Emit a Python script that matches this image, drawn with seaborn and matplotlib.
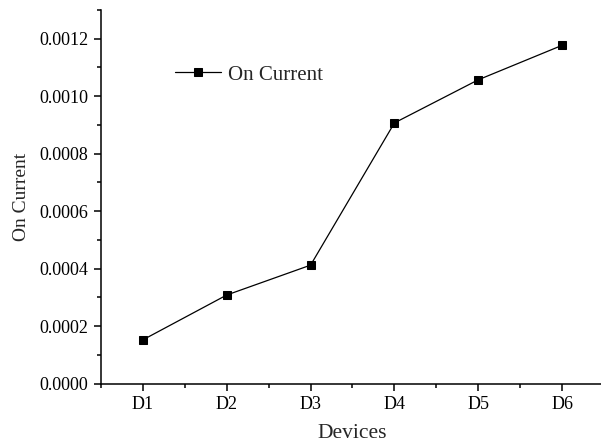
import matplotlib
matplotlib.use("Agg")
import matplotlib.pyplot as plt
from matplotlib.ticker import MultipleLocator, FixedLocator
import seaborn as sns
import pandas as pd

devices = ["D1", "D2", "D3", "D4", "D5", "D6"]
on_current = [0.000152, 0.000308, 0.000412, 0.000907, 0.001057, 0.001177]

sns.set_style("ticks")
plt.rcParams["font.family"] = ["Liberation Serif", "DejaVu Serif"]

df = pd.DataFrame({"pos": range(1, len(devices) + 1), "current": on_current})

fig = plt.figure(figsize=(6.01, 4.43), dpi=100)
ax = fig.add_axes([101 / 601, (443 - 383.5) / 443, (604 - 101) / 601, (383.5 - 10) / 443])

sns.lineplot(data=df, x="pos", y="current", ax=ax, color="black", linewidth=0.9,
             marker="s", markersize=6.2, markeredgecolor="black", markerfacecolor="black",
             label="On Current")

ax.set_xlim(0.5, 6.5)
ax.set_ylim(0, 0.0013)
ax.xaxis.set_major_locator(FixedLocator(range(1, len(devices) + 1)))
ax.set_xticklabels(devices)
ax.xaxis.set_minor_locator(FixedLocator([0.5, 1.5, 2.5, 3.5, 4.5, 5.5, 6.5]))
ax.yaxis.set_major_locator(MultipleLocator(0.0002))
ax.yaxis.set_minor_locator(MultipleLocator(0.0001))
ax.yaxis.set_major_formatter(matplotlib.ticker.FormatStrFormatter("%.4f"))

for s in ["top", "right"]:
    ax.spines[s].set_visible(False)
for s in ["left", "bottom"]:
    ax.spines[s].set_linewidth(1.1)
    ax.spines[s].set_color("black")

ax.tick_params(axis="both", which="major", direction="out", length=5, width=1.1,
               labelsize=13, colors="black", pad=4)
ax.tick_params(axis="both", which="minor", direction="out", length=3, width=1.1,
               colors="black")

ax.set_xlabel("Devices", fontsize=15.5, labelpad=8)
ax.set_ylabel("On Current", fontsize=14, labelpad=7)

ax.legend(loc="center left", bbox_to_anchor=(0.148, 0.826), frameon=False,
          fontsize=15, handlelength=2.2, handletextpad=0.3, borderpad=0,
          borderaxespad=0)

fig.savefig("out.png", dpi=100)
